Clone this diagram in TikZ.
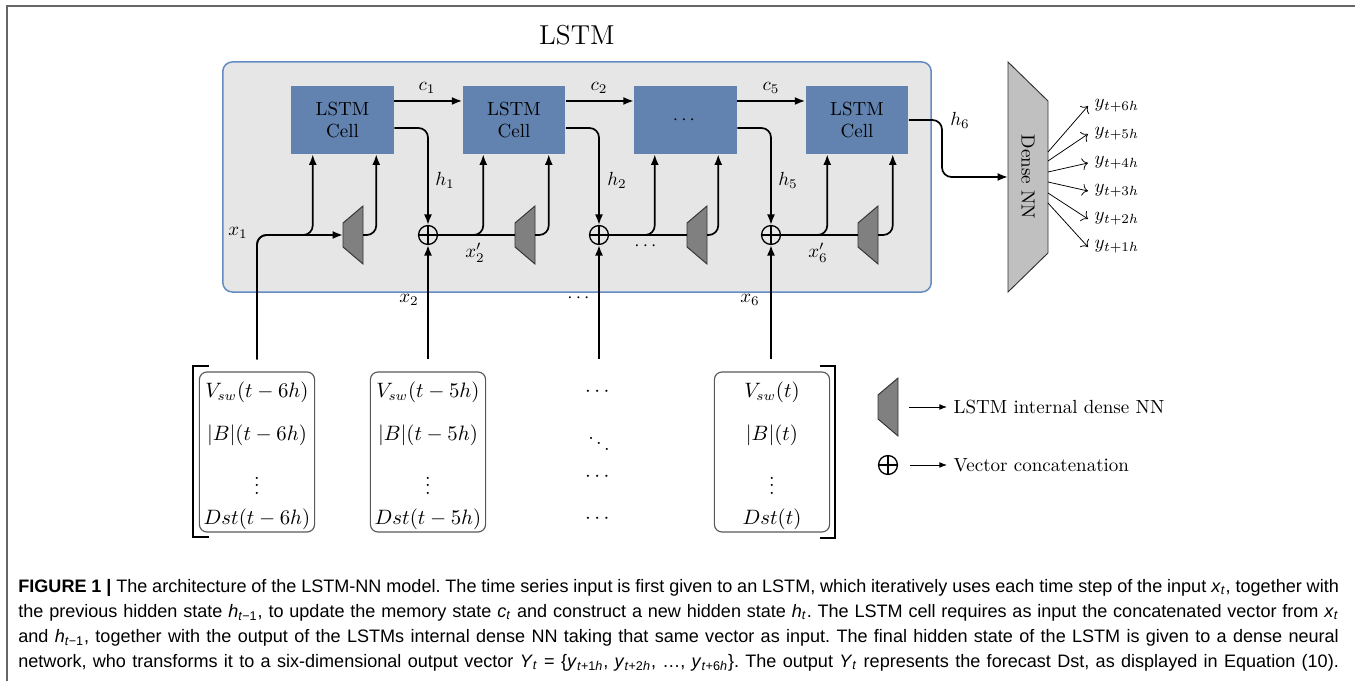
\documentclass[tikz,border=0pt]{standalone}
\usepackage{amsmath}
\usepackage{amssymb}
\usepackage{fontspec}
\newfontfamily\capfont{Liberation Sans}
\usetikzlibrary{arrows.meta,calc}

\definecolor{cellblue}{RGB}{98,131,176}
\definecolor{boxgray}{RGB}{230,230,230}
\definecolor{boxblue}{RGB}{100,140,195}
\definecolor{nngray}{RGB}{128,128,128}
\definecolor{densegray}{RGB}{192,192,192}

\newcommand{\sv}[2]{\textit{#1}\textsubscript{#2}}
% small internal dense NN: name, x, y
\newcommand{\nnblock}[3]{%
  \draw[fill=nngray, draw=black!80, line width=0.5pt] (#2-10,#3-12) -- (#2+10,#3-29) -- (#2+10,#3+29) -- (#2-10,#3+12) -- cycle;
  \coordinate (#1-in) at (#2-10,#3);
  \coordinate (#1-out) at (#2+10,#3);}

\tikzset{
  flow/.style={line width=0.9pt, rounded corners=5pt},
  cell/.style={fill=cellblue, minimum width=1.9cm, minimum height=1.26cm, align=center, inner sep=0pt},
  lstmbox/.style={fill=boxgray, draw=boxblue, line width=0.8pt, rounded corners=5pt, minimum width=13.1cm, minimum height=4.255cm},
  concat/.style={circle, draw, line width=0.7pt, minimum size=0.35cm, inner sep=0pt,
    path picture={\draw[line width=0.7pt] (path picture bounding box.north) -- (path picture bounding box.south) (path picture bounding box.west) -- (path picture bounding box.east);}},
  vecbox/.style={draw=black!65, line width=0.6pt, rounded corners=4pt, minimum width=2.13cm, minimum height=2.96cm},
  entry/.style={inner sep=1pt, font=\fontsize{10.5}{12.6}\selectfont},
  yarrow/.style={thin, -{To[length=3pt]}},
  legarrow/.style={thin, -{Latex[length=4pt,width=3pt]}},
}

\begin{document}
\begin{tikzpicture}[x=0.0185cm, y=-0.0185cm, >={Latex[length=5.5pt,width=4.2pt]}]
			\useasboundingbox (0,0) rectangle (1355,681);
			\draw[line width=1.1pt, black!60] (1355,6) -- (7,6) -- (7,681);

			\node[font=\Large] (title) at (577,35) {LSTM};
			\node[lstmbox] (lstm) at (577,177) {};

			\node[cell] (cell1) at (342.5,120) {LSTM\\Cell};
			\node[cell] (cell2) at (514,120) {LSTM\\Cell};
			\node[cell] (cell3) at (685.5,120) {$\cdots$};
			\node[cell] (cell4) at (857,120) {LSTM\\Cell};

			\nnblock{tr1}{353}{235}
			\nnblock{tr2}{525}{235}
			\nnblock{tr3}{697}{235}
			\nnblock{tr4}{868}{235}

			\node[concat] (op2) at (428,235) {};
			\node[concat] (op3) at (599,235) {};
			\node[concat] (op4) at (771,235) {};

			\draw[fill=densegray, draw=black!80, line width=0.5pt] (1008,62) -- (1048,101) -- (1048,253) -- (1008,292) -- cycle;
			\node[rotate=-90] (dnn) at (1028,177) {Dense NN};
			\coordinate (dnn-in) at (1008,177);
			\coordinate (dnn-out) at (1048,177);

			% input vectors
			\node[vecbox] (v1) at (257,452) {};
			\node[entry] (v1a) at (257,392) {$V_{sw}(t-6h)$};
			\node[entry] (v1b) at (257,435) {$|B|(t-6h)$};
			\node[entry] (v1c) at (257,480) {$\vdots$};
			\node[entry] (v1d) at (257,519) {$Dst(t-6h)$};

			\node[vecbox] (v2) at (428,452) {};
			\node[entry] (v2a) at (428,392) {$V_{sw}(t-5h)$};
			\node[entry] (v2b) at (428,435) {$|B|(t-5h)$};
			\node[entry] (v2c) at (428,480) {$\vdots$};
			\node[entry] (v2d) at (428,519) {$Dst(t-5h)$};

			\node[entry] (v3a) at (599,392) {$\cdots$};
			\node[entry] (v3b) at (599,438) {$\ddots$};
			\node[entry] (v3c) at (599,477) {$\cdots$};
			\node[entry] (v3d) at (599,519) {$\cdots$};

			\node[vecbox] (v6) at (772,452) {};
			\node[entry] (v6a) at (772,392) {$V_{sw}(t)$};
			\node[entry] (v6b) at (772,435) {$|B|(t)$};
			\node[entry] (v6c) at (772,480) {$\vdots$};
			\node[entry] (v6d) at (772,519) {$Dst(t)$};

			\draw[line width=1.4pt] (209,366) -- (193,366) -- (193,537) -- (209,537);
			\draw[line width=1.4pt] (820,366) -- (835,366) -- (835,538) -- (820,538);

			\coordinate (in1) at ($(v1.north)+(0,-12)$);
			\coordinate (in2) at ($(v2.north)+(0,-12)$);
			\coordinate (in3) at ($(v3a)+(0,-33)$);
			\coordinate (in6) at ($(op4 |- v6.north)+(0,-12)$);

			\coordinate (a1) at ($(cell1.south west)+(22,0)$);
			\coordinate (b1) at ($(cell1.south east)+(-18,0)$);
			\coordinate (a2) at ($(cell2.south west)+(21,0)$);
			\coordinate (b2) at ($(cell2.south east)+(-17,0)$);
			\coordinate (a3) at ($(cell3.south west)+(21,0)$);
			\coordinate (b3) at ($(cell3.south east)+(-19,0)$);
			\coordinate (a4) at ($(cell4.south west)+(22,0)$);
			\coordinate (b4) at ($(cell4.south east)+(-16,0)$);
			\coordinate (k6) at (942,177);

			% memory states
			\draw[flow,->] ($(cell1.east)+(0,-19)$) -- ($(cell2.west)+(0,-19)$);
			\draw[flow,->] ($(cell2.east)+(0,-19)$) -- ($(cell3.west)+(0,-19)$);
			\draw[flow,->] ($(cell3.east)+(0,-19)$) -- ($(cell4.west)+(0,-19)$);

			% hidden states
			\draw[flow,->] ($(cell1.east)+(0,8)$) -| (op2);
			\draw[flow,->] ($(cell2.east)+(0,8)$) -| (op3);
			\draw[flow,->] ($(cell3.east)+(0,8)$) -| (op4);
			\draw[flow,->] (cell4.east) -| (k6) -- (dnn-in);

			% step 1
			\draw[flow,->] (in1) |- (tr1-in);
			\draw[flow,->] (in1) |- (a1 |- tr1-in) -- (a1);
			\draw[flow,->] (tr1-out) -| (b1);

			% steps 2 to 6
			\draw[flow] (op2) -- (tr2-in);
			\draw[flow,->] (op2) -| (a2);
			\draw[flow,->] (tr2-out) -| (b2);
			\draw[flow] (op3) -- (tr3-in);
			\draw[flow,->] (op3) -| (a3);
			\draw[flow,->] (tr3-out) -| (b3);
			\draw[flow] (op4) -- (tr4-in);
			\draw[flow,->] (op4) -| (a4);
			\draw[flow,->] (tr4-out) -| (b4);

			\draw[flow,->] (in2) -- (op2);
			\draw[flow,->] (in3) -- (op3);
			\draw[flow,->] (in6) -- (op4);

			\node (lc1) at (427,88) {$c_1$};
			\node (lc2) at (599,88) {$c_2$};
			\node (lc5) at (771,88) {$c_5$};
			\node (lh1) at (445,180) {$h_1$};
			\node (lh2) at (617,180) {$h_2$};
			\node (lh5) at (788,180) {$h_5$};
			\node (lh6) at (960,120) {$h_6$};
			\node (lx1) at (238,233) {$x_1$};
			\node (lx2p) at (475,253) {$x'_2$};
			\node (ldots) at (647,246) {$\cdots$};
			\node (lx6p) at (818,253) {$x'_6$};
			\node (lx2) at (409,300) {$x_2$};
			\node (lxd) at (580,298) {$\cdots$};
			\node (lx6) at (750,300) {$x_6$};

			% outputs
			\node[anchor=west] (y6) at (1088,106) {$y_{t+6h}$};
			\node[anchor=west] (y5) at (1088,134) {$y_{t+5h}$};
			\node[anchor=west] (y4) at (1088,163) {$y_{t+4h}$};
			\node[anchor=west] (y3) at (1088,191) {$y_{t+3h}$};
			\node[anchor=west] (y2) at (1088,219) {$y_{t+2h}$};
			\node[anchor=west] (y1) at (1088,247) {$y_{t+1h}$};
			\draw[yarrow] ($(dnn-out)+(0,-25)$) -- (y6.west);
			\draw[yarrow] ($(dnn-out)+(0,-16)$) -- (y5.west);
			\draw[yarrow] ($(dnn-out)+(0,-5)$) -- (y4.west);
			\draw[yarrow] ($(dnn-out)+(0,5)$) -- (y3.west);
			\draw[yarrow] ($(dnn-out)+(0,16)$) -- (y2.west);
			\draw[yarrow] ($(dnn-out)+(0,26)$) -- (y1.west);

			% legend
			\nnblock{trl}{888}{407}
			\node[concat] (opl) at (888,465) {};
			\node[anchor=west] (lgd1) at (947,407) {LSTM internal dense NN};
			\node[anchor=west] (lgd2) at (947,465) {Vector concatenation};
			\draw[legarrow] ($(trl-out)+(11,0)$) -- (lgd1.west);
			\draw[legarrow] ($(opl.east)+(12,0)$) -- (lgd2.west);

			\node[anchor=north west, text width=24.42cm, align=justify, inner sep=0pt,
			      font=\capfont\fontsize{9.5}{13.2}\selectfont] (caption) at (18,579)
			{\frenchspacing
			\textbf{FIGURE 1 |} The architecture of the LSTM-NN model. The time series input is first given to an LSTM, which iteratively uses each time step of the input \sv{x}{\textit{t}}, together with\linebreak
			the previous hidden state \sv{h}{\textit{t}−1}, to update the memory state \sv{c}{\textit{t}} and construct a new hidden state \sv{h}{\textit{t}}. The LSTM cell requires as input the concatenated vector from \sv{x}{\textit{t}}\linebreak
			and \sv{h}{\textit{t}−1}, together with the output of the LSTMs internal dense NN taking that same vector as input. The final hidden state of the LSTM is given to a dense neural\linebreak
			network, who transforms it to a six-dimensional output vector \sv{Y}{\textit{t}} = \{\sv{y}{\textit{t}+1\textit{h}}, \sv{y}{\textit{t}+2\textit{h}}, \ldots, \sv{y}{\textit{t}+6\textit{h}}\}. The output \sv{Y}{\textit{t}} represents the forecast Dst, as displayed in Equation (10).\parfillskip=0pt\par};
		\end{tikzpicture}
\end{document}
